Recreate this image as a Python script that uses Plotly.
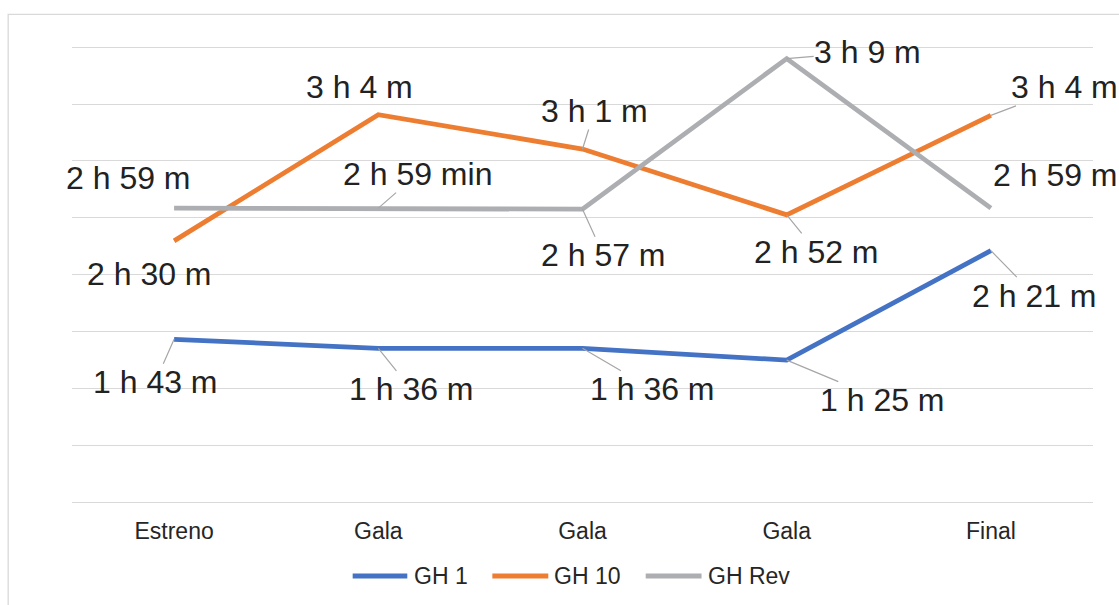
import plotly.graph_objects as go

# ---- data ----
categories = ["Estreno", "Gala", "Gala", "Gala", "Final"]
x_pos = [0, 1, 2, 3, 4]
series_names = ["GH 1", "GH 10", "GH Rev"]
gh1_values = [1.431, 1.352, 1.352, 1.248, 2.211]
gh10_values = [2.297, 3.407, 3.105, 2.526, 3.401]
ghrev_values = [2.585, 2.585, 2.576, 3.900, 2.585]
gh1_labels = ["1 h 43 m", "1 h 36 m", "1 h 36 m", "1 h 25 m", "2 h 21 m"]
gh10_labels = ["2 h 30 m", "3 h 4 m", "3 h 1 m", "2 h 52 m", "3 h 4 m"]
ghrev_labels = ["2 h 59 m", "2 h 59 min", "2 h 57 m", "3 h 9 m", "2 h 59 m"]

# ---- styling / label placement (pixel offsets, leader flag) ----
colors = ["#4472C4", "#ED7D31", "#ADAEB2"]
gh1_place = [(-19, 43, True), (33, 41, True), (70, 41, True), (96, 40, True), (44, 45, True)]
gh10_place = [(-25, 33, False), (-19, -28, False), (12, -38, True), (30, 37, True), (74, -28, True)]
ghrev_place = [(-46, -30, False), (39, -34, True), (21, 46, True), (81, -7, True), (65, -33, False)]
# custom legend placement (paper coords): line start, line end, text start
legend_place = [(0.2749, 0.3284, 0.3327), (0.4117, 0.4665, 0.4704), (0.5619, 0.6166, 0.6210)]
legend_y = -0.162

FONT = "Liberation Sans, Arial, sans-serif"
LABEL_SIZE = 32

fig = go.Figure()
for name, vals, col in zip(series_names, [gh1_values, gh10_values, ghrev_values], colors):
    fig.add_trace(go.Scatter(x=x_pos, y=vals, mode="lines", name=name,
                             line=dict(color=col, width=4.8), showlegend=False))

annotations = []
for vals, labels, place in [(gh1_values, gh1_labels, gh1_place),
                            (gh10_values, gh10_labels, gh10_place),
                            (ghrev_values, ghrev_labels, ghrev_place)]:
    for xi, yi, lab, (ax, ay, leader) in zip(x_pos, vals, labels, place):
        if leader:
            annotations.append(dict(x=xi, y=yi, xref="x", yref="y", text=lab,
                                    showarrow=True, arrowhead=0, arrowwidth=1.2,
                                    arrowcolor="#A6A6A6", ax=ax, ay=ay, standoff=0,
                                    borderpad=0,
                                    font=dict(family=FONT, size=LABEL_SIZE, color="#222222")))
        else:
            annotations.append(dict(x=xi, y=yi, xref="x", yref="y", text=lab,
                                    showarrow=False, xshift=ax, yshift=-ay,
                                    font=dict(family=FONT, size=LABEL_SIZE, color="#222222")))

shapes = [dict(type="rect", xref="paper", yref="paper",
               x0=-0.0625, x1=1.2, y0=-0.4, y1=1.067,
               line=dict(color="#D9D9D9", width=1.3), layer="below")]

# custom legend
for name, col, (x0, x1, xt) in zip(series_names, colors, legend_place):
    shapes.append(dict(type="line", xref="paper", yref="paper",
                       x0=x0, x1=x1, y0=legend_y, y1=legend_y,
                       line=dict(color=col, width=5)))
    annotations.append(dict(x=xt, y=legend_y, xref="paper", yref="paper", text=name,
                            showarrow=False, xanchor="left", yanchor="middle",
                            font=dict(family=FONT, size=23, color="#262626")))

fig.update_layout(
    width=1119, height=605,
    margin=dict(l=72, r=26, t=45, b=103),
    paper_bgcolor="white", plot_bgcolor="white",
    font=dict(family=FONT, color="#262626"),
    annotations=annotations,
    shapes=shapes,
    showlegend=False,
)
fig.update_xaxes(range=[-0.5, 4.5], tickvals=x_pos, ticktext=categories,
                 showgrid=False, zeroline=False, showline=False, ticks="",
                 ticklabelstandoff=13,
                 tickfont=dict(family=FONT, size=23, color="#262626"))
fig.update_yaxes(range=[0, 4.02], dtick=0.5, showticklabels=False,
                 showgrid=True, gridcolor="#D9D9D9", gridwidth=1.3,
                 zeroline=True, zerolinecolor="#D9D9D9", zerolinewidth=1.3,
                 showline=False, ticks="")

fig.write_html("out.html", config={"displayModeBar": False},
               post_script="document.body.style.margin='0px';document.body.style.overflow='hidden';")
